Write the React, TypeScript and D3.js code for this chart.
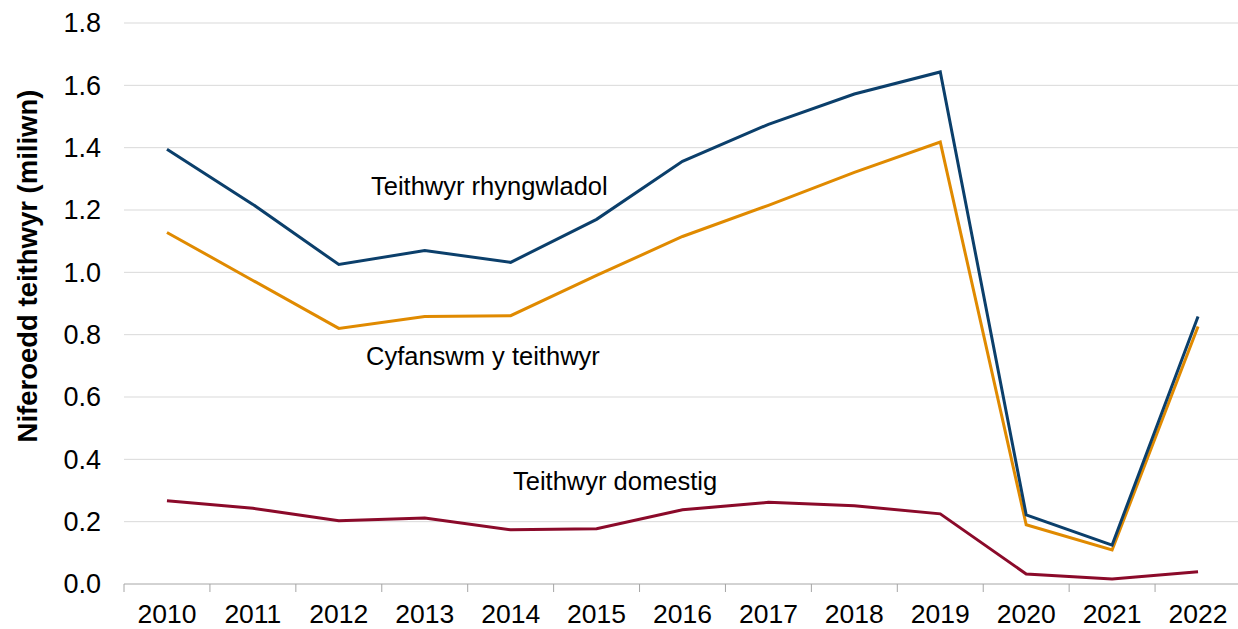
import { useEffect, useRef } from 'react'
import * as d3 from 'd3'

const years = ['2010', '2011', '2012', '2013', '2014', '2015', '2016', '2017', '2018', '2019', '2020', '2021', '2022']
const total = [1.395, 1.218, 1.025, 1.07, 1.032, 1.17, 1.356, 1.475, 1.572, 1.643, 0.222, 0.125, 0.858]
const international = [1.128, 0.974, 0.82, 0.858, 0.861, 0.99, 1.115, 1.215, 1.321, 1.418, 0.19, 0.109, 0.826]
const domestic = [0.267, 0.243, 0.203, 0.212, 0.174, 0.177, 0.238, 0.262, 0.251, 0.225, 0.032, 0.016, 0.039]
const yTicks = [0, 0.2, 0.4, 0.6, 0.8, 1.0, 1.2, 1.4, 1.6, 1.8]

const FONT = 'Liberation Sans, Arial, sans-serif'

export default function App() {
  const ref = useRef<SVGSVGElement>(null)
  const width = 1238
  const height = 629

  useEffect(() => {
    const el = ref.current
    if (!el) return
    const svg = d3.select(el)
    svg.selectAll('*').remove()

    const x = d3.scaleBand().domain(years).range([124, 1241])
    const y = d3.scaleLinear().domain([0, 1.8]).range([584, 23])
    const cx = (i: number) => (x(years[i]) ?? 0) + x.bandwidth() / 2

    // gridlines
    svg.append('g')
      .selectAll('line')
      .data(yTicks.filter((d) => d > 0))
      .join('line')
      .attr('x1', 124)
      .attr('x2', width)
      .attr('y1', (d) => y(d))
      .attr('y2', (d) => y(d))
      .attr('stroke', '#d9d9d9')
      .attr('stroke-width', 1)

    // y tick labels
    svg.append('g')
      .selectAll('text')
      .data(yTicks)
      .join('text')
      .attr('x', 101)
      .attr('y', (d) => y(d))
      .attr('dy', '0.35em')
      .attr('text-anchor', 'end')
      .attr('font-family', FONT)
      .attr('font-size', 27)
      .attr('fill', '#000')
      .text((d) => d.toFixed(1))

    // x axis
    const ax = svg.append('g')
    ax.append('line')
      .attr('x1', 124)
      .attr('x2', width)
      .attr('y1', y(0))
      .attr('y2', y(0))
      .attr('stroke', '#a6a6a6')
      .attr('stroke-width', 1)
    const edges = years.map((d) => x(d) ?? 0)
    ax.selectAll('line.tk')
      .data(edges)
      .join('line')
      .attr('class', 'tk')
      .attr('x1', (d) => d)
      .attr('x2', (d) => d)
      .attr('y1', y(0))
      .attr('y2', y(0) + 8)
      .attr('stroke', '#a6a6a6')
    ax.selectAll('text')
      .data(years)
      .join('text')
      .attr('x', (d, i) => cx(i))
      .attr('y', 623)
      .attr('text-anchor', 'middle')
      .attr('font-family', FONT)
      .attr('font-size', 26.5)
      .attr('fill', '#000')
      .text((d) => d)

    // y title
    svg.append('text')
      .attr('transform', `translate(37,266) rotate(-90)`)
      .attr('text-anchor', 'middle')
      .attr('font-family', FONT)
      .attr('font-size', 27.5)
      .attr('font-weight', 'bold')
      .attr('fill', '#000')
      .text('Niferoedd teithwyr (miliwn)')

    const line = d3.line<number>().x((d, i) => cx(i)).y((d) => y(d))
    const series = [
      { values: domestic, color: '#8b0a2a' },
      { values: international, color: '#e08a00' },
      { values: total, color: '#0b3f6b' },
    ]
    svg.append('g')
      .selectAll('path')
      .data(series)
      .join('path')
      .attr('d', (d) => line(d.values))
      .attr('fill', 'none')
      .attr('stroke', (d) => d.color)
      .attr('stroke-width', 3)
      .attr('stroke-linejoin', 'miter')

    const labels = [
      { text: 'Teithwyr rhyngwladol', x: 371, y: 186 },
      { text: 'Cyfanswm y teithwyr', x: 366, y: 356 },
      { text: 'Teithwyr domestig', x: 513, y: 481 },
    ]
    svg.append('g')
      .selectAll('text')
      .data(labels)
      .join('text')
      .attr('x', (d) => d.x)
      .attr('y', (d) => d.y)
      .attr('dy', '0.35em')
      .attr('font-family', FONT)
      .attr('font-size', 25.5)
      .attr('fill', '#000')
      .text((d) => d.text)
  }, [])

  return (
    <svg
      ref={ref}
      width={width}
      height={height}
      style={{ position: 'absolute', left: 0, top: 0, background: '#fff' }}
    />
  )
}
